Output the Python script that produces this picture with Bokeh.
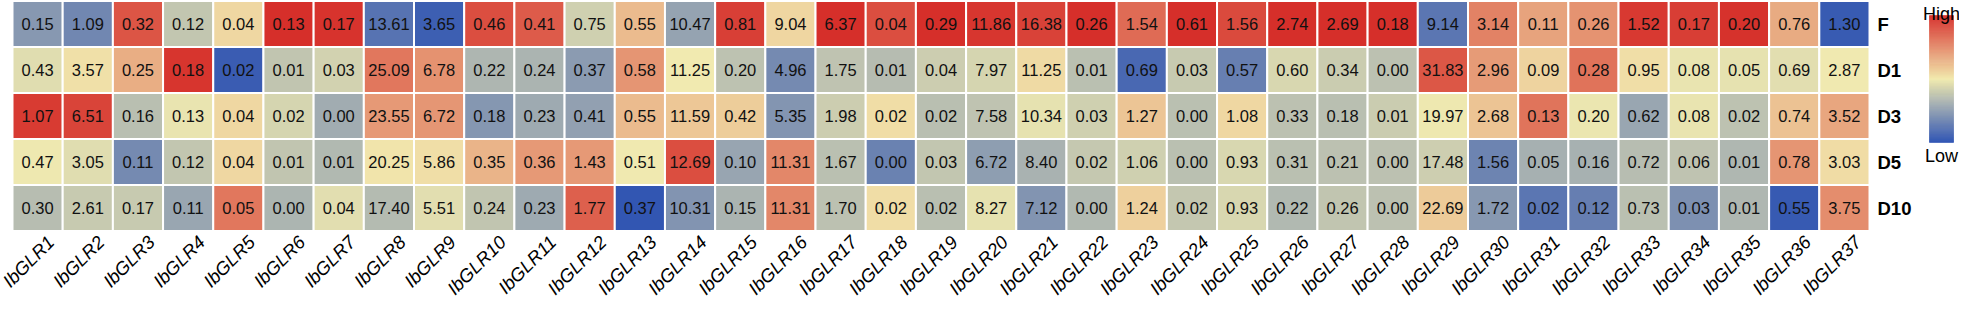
import math
import numpy as np
from bokeh.plotting import figure
from bokeh.models import ColumnDataSource, Range1d, LinearColorMapper
from bokeh.transform import transform
from bokeh.core.properties import value
from bokeh.embed import file_html
from bokeh.resources import INLINE

# ---------------- data ----------------
genes = ["IbGLR1", "IbGLR2", "IbGLR3", "IbGLR4", "IbGLR5", "IbGLR6", "IbGLR7",
         "IbGLR8", "IbGLR9", "IbGLR10", "IbGLR11", "IbGLR12", "IbGLR13", "IbGLR14",
         "IbGLR15", "IbGLR16", "IbGLR17", "IbGLR18", "IbGLR19", "IbGLR20", "IbGLR21",
         "IbGLR22", "IbGLR23", "IbGLR24", "IbGLR25", "IbGLR26", "IbGLR27", "IbGLR28",
         "IbGLR29", "IbGLR30", "IbGLR31", "IbGLR32", "IbGLR33", "IbGLR34", "IbGLR35",
         "IbGLR36", "IbGLR37"]
stages = ["F", "D1", "D3", "D5", "D10"]

expr_F = [0.15, 1.09, 0.32, 0.12, 0.04, 0.13, 0.17, 13.61, 3.65, 0.46, 0.41, 0.75, 0.55,
          10.47, 0.81, 9.04, 6.37, 0.04, 0.29, 11.86, 16.38, 0.26, 1.54, 0.61, 1.56, 2.74,
          2.69, 0.18, 9.14, 3.14, 0.11, 0.26, 1.52, 0.17, 0.20, 0.76, 1.30]
expr_D1 = [0.43, 3.57, 0.25, 0.18, 0.02, 0.01, 0.03, 25.09, 6.78, 0.22, 0.24, 0.37, 0.58,
           11.25, 0.20, 4.96, 1.75, 0.01, 0.04, 7.97, 11.25, 0.01, 0.69, 0.03, 0.57, 0.60,
           0.34, 0.00, 31.83, 2.96, 0.09, 0.28, 0.95, 0.08, 0.05, 0.69, 2.87]
expr_D3 = [1.07, 6.51, 0.16, 0.13, 0.04, 0.02, 0.00, 23.55, 6.72, 0.18, 0.23, 0.41, 0.55,
           11.59, 0.42, 5.35, 1.98, 0.02, 0.02, 7.58, 10.34, 0.03, 1.27, 0.00, 1.08, 0.33,
           0.18, 0.01, 19.97, 2.68, 0.13, 0.20, 0.62, 0.08, 0.02, 0.74, 3.52]
expr_D5 = [0.47, 3.05, 0.11, 0.12, 0.04, 0.01, 0.01, 20.25, 5.86, 0.35, 0.36, 1.43, 0.51,
           12.69, 0.10, 11.31, 1.67, 0.00, 0.03, 6.72, 8.40, 0.02, 1.06, 0.00, 0.93, 0.31,
           0.21, 0.00, 17.48, 1.56, 0.05, 0.16, 0.72, 0.06, 0.01, 0.78, 3.03]
expr_D10 = [0.30, 2.61, 0.17, 0.11, 0.05, 0.00, 0.04, 17.40, 5.51, 0.24, 0.23, 1.77, 0.37,
            10.31, 0.15, 11.31, 1.70, 0.02, 0.02, 8.27, 7.12, 0.00, 1.24, 0.02, 0.93, 0.22,
            0.26, 0.00, 22.69, 1.72, 0.02, 0.12, 0.73, 0.03, 0.01, 0.55, 3.75]

legend_labels = ["High", "Low"]

# ---------------- colours (column z-score, like pheatmap scale="column") ----------------
M = np.array([expr_F, expr_D1, expr_D3, expr_D5, expr_D10], dtype=float)
Z = (M - M.mean(axis=0)) / M.std(axis=0, ddof=1)
zmax = float(np.abs(Z).max())


def ramp(stops, n):
    rgb = [tuple(int(s[k:k + 2], 16) for k in (1, 3, 5)) for s in stops]
    out = []
    for t in np.linspace(0, 1, n):
        pos = t * (len(rgb) - 1)
        i = min(int(pos), len(rgb) - 2)
        f = pos - i
        c = [round(rgb[i][k] + (rgb[i + 1][k] - rgb[i][k]) * f) for k in range(3)]
        out.append("#%02x%02x%02x" % tuple(c))
    return out


palette = ramp(["#2A50B2", "#F2EBB0", "#D62F2A"], 256)
mapper = LinearColorMapper(palette=palette, low=-zmax, high=zmax)

# ---------------- layout ----------------
W, H = 1959, 298
n_col, n_row = len(genes), len(stages)
left_px, top_px = 12, 0.5
cw = (1869 - left_px) / n_col   # cell width in px
rh = 46.0                        # cell height in px

x0 = -left_px / cw
y1 = n_row + top_px / rh
p = figure(width=W, height=H,
           x_range=Range1d(x0, x0 + W / cw), y_range=Range1d(y1 - H / rh, y1),
           output_backend="svg", toolbar_location=None,
           x_axis_location=None, y_axis_location=None,
           min_border=0, outline_line_color=None)
p.grid.visible = False
p.background_fill_color = "white"


def dx(px):
    return x0 + px / cw


def dy(py):
    return y1 - py / rh


xs, ys, vals, zs, labs = [], [], [], [], []
for i in range(n_row):
    for j in range(n_col):
        xs.append(j + 0.5)
        ys.append(n_row - i - 0.5)
        vals.append(M[i, j])
        zs.append(Z[i, j])
        labs.append("%.2f" % M[i, j])
src = ColumnDataSource(dict(x=xs, y=ys, v=vals, z=zs, lab=labs))

p.rect("x", "y", width=1, height=1, source=src,
       fill_color=transform("z", mapper), line_color="white", line_width=2)
p.text("x", "y", text="lab", source=src, text_align="center", text_baseline="middle",
       text_font=value("Liberation Sans"), text_font_size="16.5px", text_color="#111111")

# column labels (rotated, italic)
col_src = ColumnDataSource(dict(x=[j + 0.5 + 6 / cw for j in range(n_col)],
                                y=[-0.5 / rh] * n_col, t=genes))
p.text("x", "y", text="t", source=col_src, angle=math.pi / 4,
       text_align="right", text_baseline="top",
       text_font=value("Liberation Sans"), text_font_style="italic",
       text_font_size="18.5px", text_color="black")

# row labels (bold, right side)
row_src = ColumnDataSource(dict(x=[n_col + 8 / cw] * n_row,
                                y=[n_row - i - 0.5 for i in range(n_row)], t=stages))
p.text("x", "y", text="t", source=row_src, text_align="left", text_baseline="middle",
       text_font=value("Liberation Sans"), text_font_style="bold",
       text_font_size="18.5px", text_color="black")

# colour key
bar_l, bar_r, bar_t, bar_b = 1929, 1953, 15, 142
nseg = 128
edges = np.linspace(bar_b, bar_t, nseg + 1)
seg_cols = [palette[int(round(k * (len(palette) - 1) / (nseg - 1)))] for k in range(nseg)]
p.quad(left=dx(bar_l), right=dx(bar_r),
       bottom=[dy(e) for e in edges[:-1]], top=[dy(e) for e in edges[1:]],
       fill_color=seg_cols, line_color=seg_cols, line_width=0.6)
cx = dx((bar_l + bar_r) / 2)
p.text(x=[cx], y=[dy(13)], text=[legend_labels[0]], text_align="center",
       text_baseline="alphabetic", text_font=value("Liberation Sans"),
       text_font_size="18px", text_color="black")
p.text(x=[cx], y=[dy(bar_b + 3)], text=[legend_labels[1]], text_align="center",
       text_baseline="top", text_font=value("Liberation Sans"),
       text_font_size="18px", text_color="black")

open("out.html", "w").write(file_html(p, INLINE))
